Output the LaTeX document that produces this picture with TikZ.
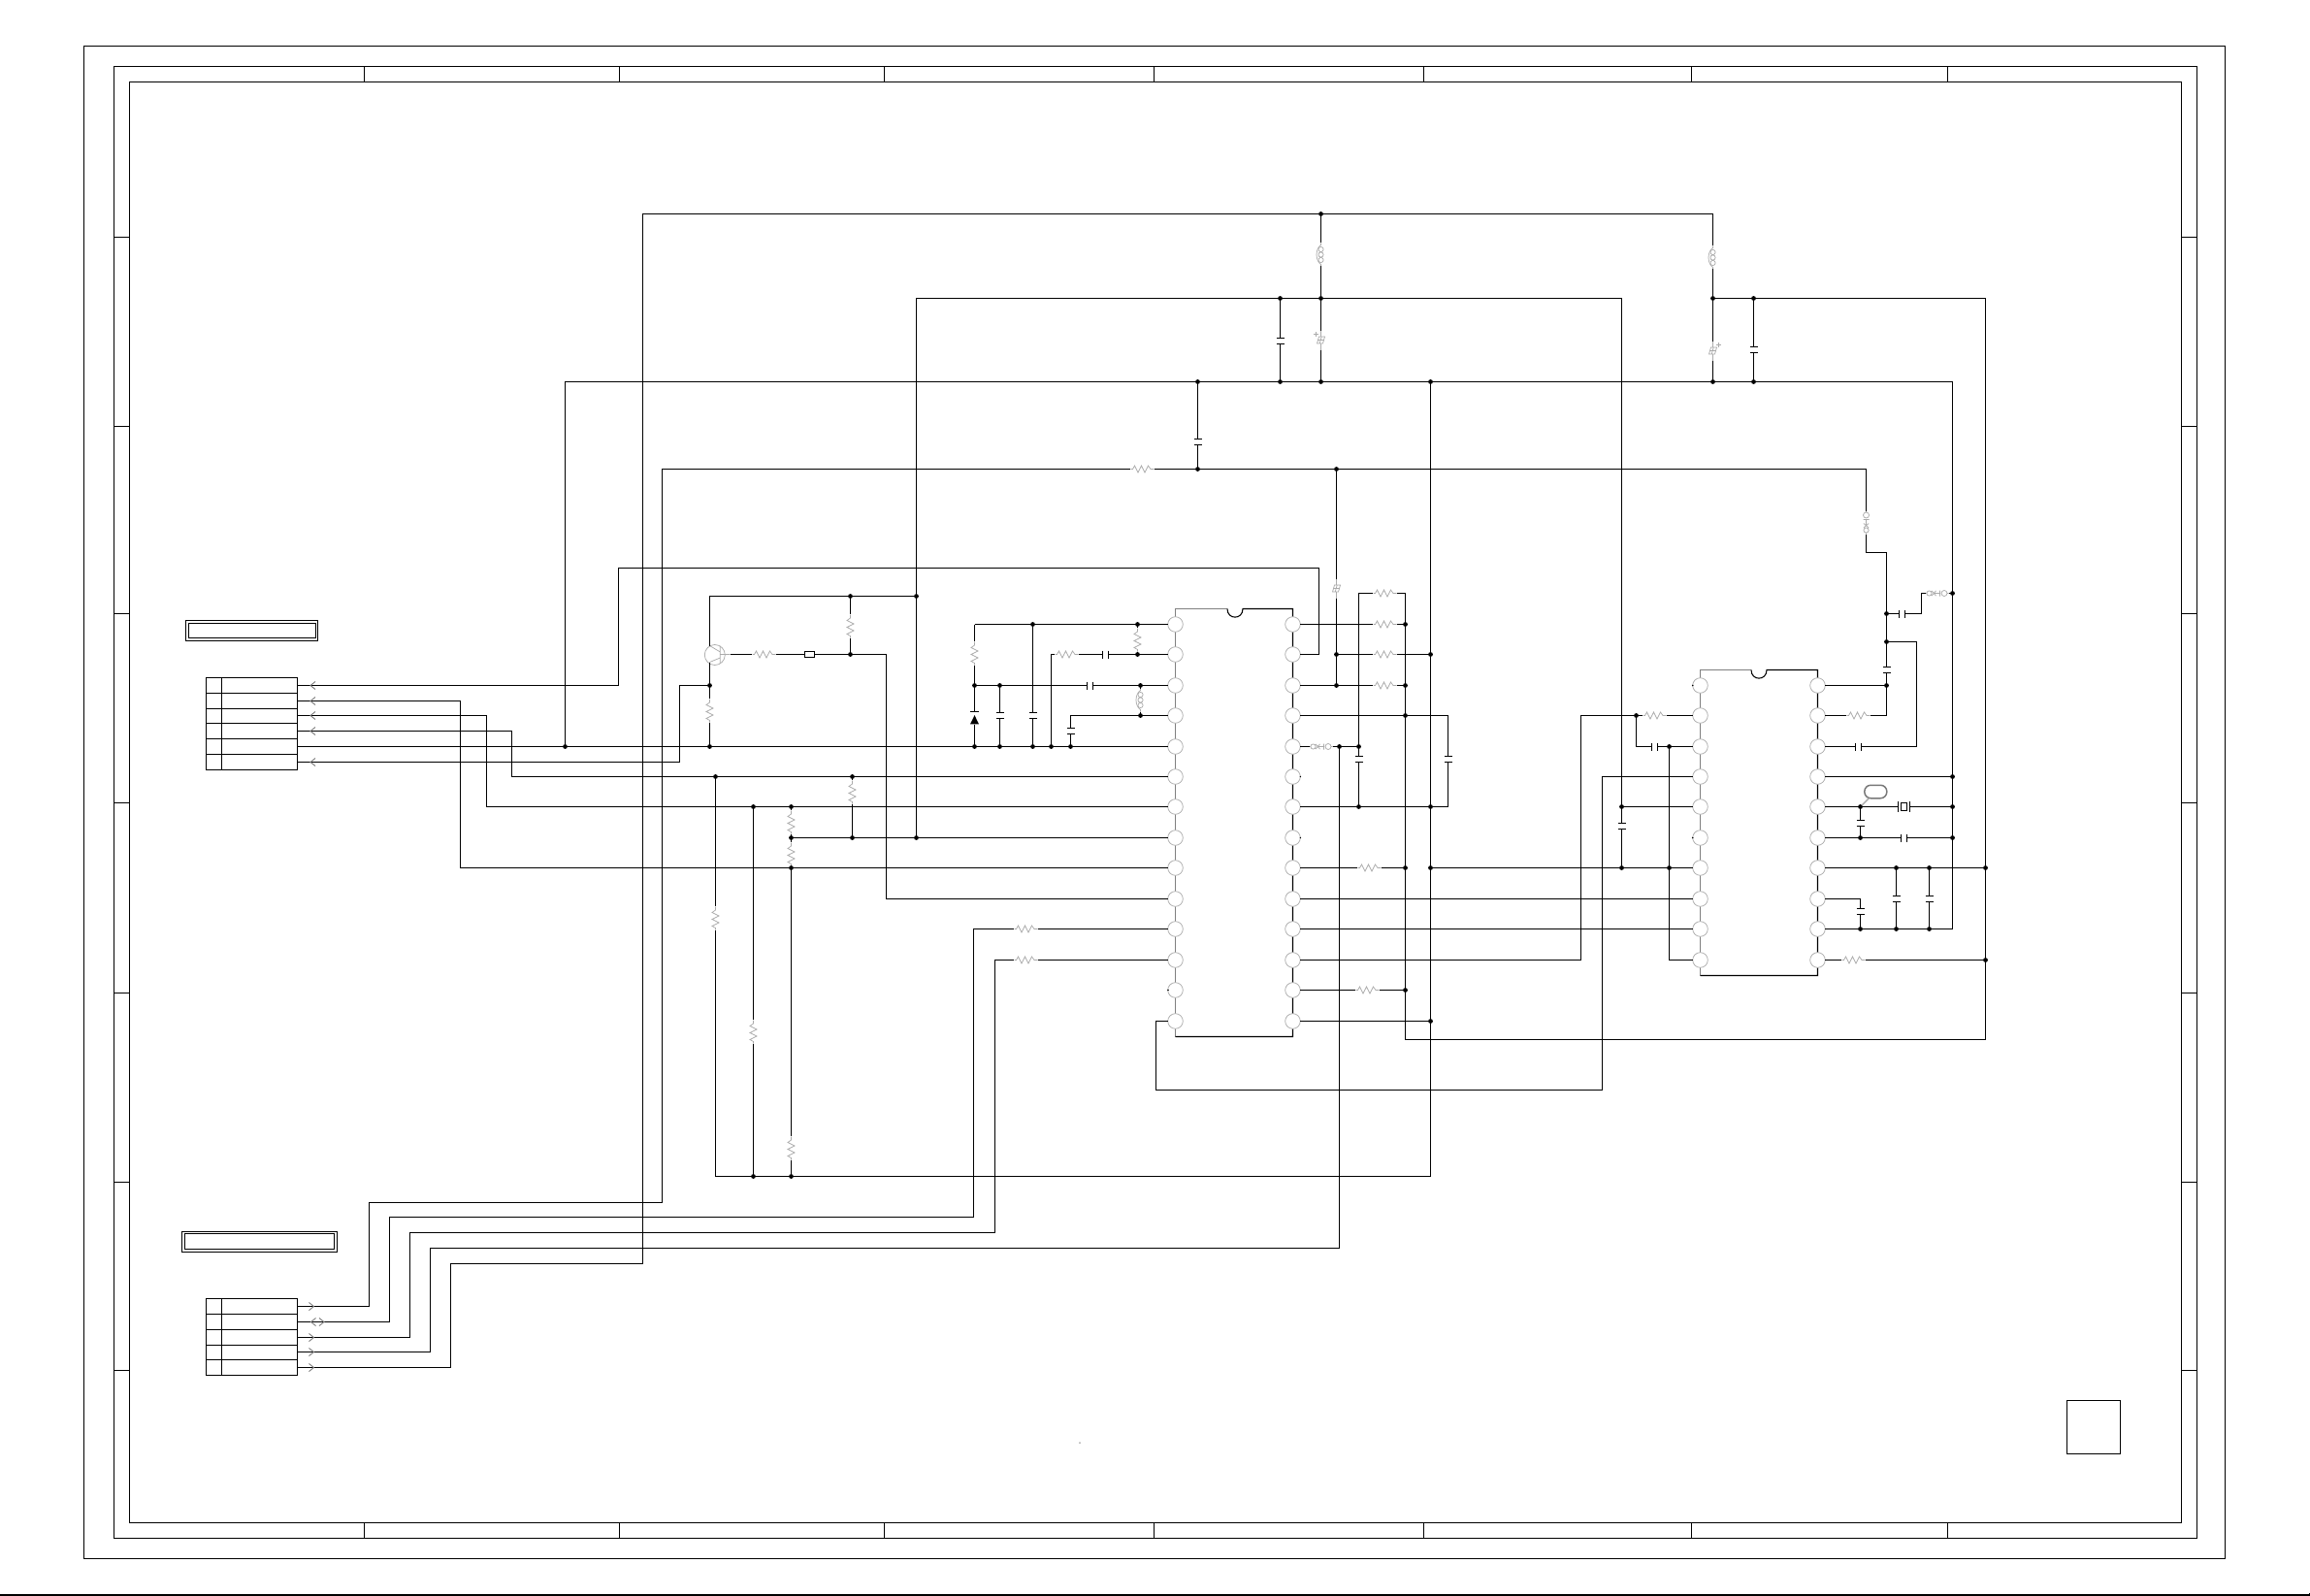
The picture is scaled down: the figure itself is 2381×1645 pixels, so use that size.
\documentclass[tikz,border=0pt]{standalone}
\def\pxu{0.3pt}
\definecolor{symgray}{HTML}{ABABAB}
\definecolor{icgray}{HTML}{808080}
\tikzset{
  wire/.style={draw=black,line width=0.32pt,line cap=butt,line join=miter},
  sym/.style={draw=symgray,line width=0.22pt},
  pinc/.style={circle,draw=symgray,line width=0.22pt,fill=white,minimum size=15.6*\pxu,inner sep=0pt,outer sep=0pt},
  jn/.style={circle,fill=black,draw=none,minimum size=4.8*\pxu,inner sep=0pt,outer sep=0pt},
  comp/.style={rectangle,draw=none,inner sep=0pt,outer sep=0pt},
  fusebox/.style={rectangle,draw=black,line width=0.32pt,fill=white,minimum width=10*\pxu,minimum height=6*\pxu,inner sep=0pt,outer sep=0pt},
  ovalnote/.style={rectangle,rounded corners=6.5*\pxu,draw=symgray!70!black,line width=0.45pt,minimum width=23*\pxu,minimum height=13.5*\pxu,inner sep=0pt,outer sep=0pt}
}
\newcommand{\snapxy}[2]{\pgfmathsetmacro\sxx{floor(#1)+0.5}\pgfmathsetmacro\syy{floor(#2)+0.5}}
\newcommand{\J}[3]{\snapxy{#2}{#3}\node[jn] (#1) at (\sxx,\syy) {};}
\newcommand{\K}[3]{\snapxy{#2}{#3}\coordinate (#1) at (\sxx,\syy);}
\newcommand{\zig}{\draw[sym] (-12,0) -- (-10,0) -- (-8,-3.5) -- (-4.5,3.5) -- (-1,-3.5) -- (2.5,3.5) -- (6,-3.5) -- (8.5,0) -- (12,0);}
\newcommand{\RH}[3]{\snapxy{#2}{#3}\node[comp,minimum width=25*\pxu,minimum height=8*\pxu] (#1) at (\sxx,\syy) {};
  \begin{scope}[shift={(\sxx,\syy)}]\zig\end{scope}}
\newcommand{\RV}[3]{\snapxy{#2}{#3}\node[comp,minimum width=8*\pxu,minimum height=25*\pxu] (#1) at (\sxx,\syy) {};
  \begin{scope}[shift={(\sxx,\syy)},rotate=90]\zig\end{scope}}
\newcommand{\capsym}{\draw[wire] (-3,-4) -- (-3,4) (3,-4) -- (3,4);}
\newcommand{\CH}[3]{\snapxy{#2}{#3}\node[comp,minimum width=6*\pxu,minimum height=8*\pxu] (#1) at (\sxx,\syy) {};
  \begin{scope}[shift={(\sxx,\syy)}]\capsym\end{scope}}
\newcommand{\CV}[3]{\snapxy{#2}{#3}\node[comp,minimum width=8*\pxu,minimum height=6*\pxu] (#1) at (\sxx,\syy) {};
  \begin{scope}[shift={(\sxx,\syy)},rotate=90]\capsym\end{scope}}
\newcommand{\LV}[3]{\snapxy{#2}{#3}\node[comp,minimum width=8*\pxu,minimum height=24*\pxu] (#1) at (\sxx,\syy) {};
  \begin{scope}[shift={(\sxx,\syy)}]
    \draw[sym] (0,-12) -- (0,-10) .. controls (-6,-6) and (-6,6) .. (0,10) -- (0,12);
    \draw[sym] (0,-5.5) circle[radius=2.6] (0,0) circle[radius=2.6] (0,5.5) circle[radius=2.6];
  \end{scope}}
\newcommand{\ferr}{\draw[sym] (-12,0) -- (-10.5,0) (-8,0) circle[radius=2.6] (-5.4,-2.6) -- (-1,2.6) (-5.4,2.6) -- (-1,-2.6) (-3,0) -- (3,0) (3,-3) -- (3,3) (7.5,0) circle[radius=3] (10.5,0) -- (12,0);}
\newcommand{\FH}[3]{\snapxy{#2}{#3}\node[comp,minimum width=24*\pxu,minimum height=8*\pxu] (#1) at (\sxx,\syy) {};
  \begin{scope}[shift={(\sxx,\syy)}]\ferr\end{scope}}
\newcommand{\FV}[3]{\snapxy{#2}{#3}\node[comp,minimum width=8*\pxu,minimum height=24*\pxu] (#1) at (\sxx,\syy) {};
  \begin{scope}[shift={(\sxx,\syy)},rotate=90]\ferr\end{scope}}
\newcommand{\EC}[4]{\snapxy{#2}{#3}\node[comp,minimum width=8*\pxu,minimum height=20*\pxu] (#1) at (\sxx,\syy) {};
  \begin{scope}[shift={(\sxx,\syy)}]
    \draw[sym] (0,-10) -- (0,-3.5) (0,3.5) -- (0,10);
    \draw[sym] (-4,3.5) -- (-2,-3.5) -- (4,-3.5) -- (2,3.5) -- cycle (-1.3,3.5) -- (0.7,-3.5) (-2.6,0) -- (2.8,0);
    \ifnum#4=1 \draw[sym] (-8,-6) -- (-3,-6) (-5.5,-8.5) -- (-5.5,-3.5);\fi
    \ifnum#4=2 \draw[sym] (3,-6) -- (8,-6) (5.5,-8.5) -- (5.5,-3.5);\fi
  \end{scope}}
\newcommand{\chevL}[2]{\draw[draw=symgray!70!black,line width=0.26pt] (#1+3,#2-4) -- (#1-2,#2) -- (#1+3,#2+4);}
\newcommand{\chevR}[2]{\draw[draw=symgray!70!black,line width=0.26pt] (#1-3,#2-4) -- (#1+2,#2) -- (#1-3,#2+4);}
\begin{document}
\begin{tikzpicture}[x=0.3pt,y=-0.3pt]
\useasboundingbox (0,0) rectangle (2381,1645);
% ---------- frame
\draw[wire] (86.5,47.5) rectangle (2293.5,1606.5);
\draw[wire] (117.5,68.5) rectangle (2264.5,1585.5);
\draw[wire] (133.5,84.5) rectangle (2248.5,1569.5);
\foreach \x in {375.5,638.5,911.5,1189.5,1467.5,1743.5,2007.5}{
  \draw[wire] (\x,68.5) -- (\x,84.5) (\x,1569.5) -- (\x,1585.5);}
\foreach \y in {244.5,439.5,632.5,827.5,1023.5,1218.5,1412.5}{
  \draw[wire] (117.5,\y) -- (133.5,\y) (2248.5,\y) -- (2264.5,\y);}
\draw[wire] (2130.5,1443.5) rectangle (2185.5,1498.5);
\draw[line width=0.4pt] (0,1644) -- (2381,1644);
\draw[line width=0.3pt] (2380.5,1642) -- (2380.5,1644);
\fill[symgray] (1113,1487) circle[radius=1];
% ---------- title boxes
\draw[wire] (191.5,639.5) rectangle (327.5,660.5);
\draw[wire] (194.5,642.5) rectangle (325.5,657.5);
\draw[wire] (187.5,1269.5) rectangle (347.5,1290.5);
\draw[wire] (190.5,1271.5) rectangle (344.5,1287.5);
% ---------- connectors
\draw[wire] (212.5,698.5) rectangle (306.5,793.5);
\draw[wire] (228.5,698.5) -- (228.5,793.5);
\foreach \y in {714.5,730.5,745.5,761.5,777.5}{\draw[wire] (212.5,\y) -- (306.5,\y);}
\draw[wire] (212.5,1338.5) rectangle (306.5,1417.5);
\draw[wire] (228.5,1338.5) -- (228.5,1417.5);
\foreach \y in {1354.5,1370.5,1386.5,1401.5}{\draw[wire] (212.5,\y) -- (306.5,\y);}
\K{P1}{306.5}{706}\K{P2}{306.5}{722.3}\K{P3}{306.5}{737.3}\K{P4}{306.5}{753.3}\K{P5}{306.5}{769}\K{P6}{306.5}{785.3}
\K{Q1}{306.5}{1346.3}\K{Q2}{306.5}{1362.3}\K{Q3}{306.5}{1378.3}\K{Q4}{306.5}{1393.3}\K{Q5}{306.5}{1409.3}
% ---------- ICs
\draw[draw=icgray,line width=0.32pt] (1211.5,1068.5) -- (1211.5,627.5) -- (1265,627.5);
\draw[wire] (1265,627.5) .. controls (1265,639) and (1281,639) .. (1281,627.5) -- (1332.5,627.5) -- (1332.5,1068.5) -- (1211.5,1068.5);
\draw[draw=icgray,line width=0.32pt] (1752.5,1005.5) -- (1752.5,690.5) -- (1805,690.5);
\draw[wire] (1805,690.5) .. controls (1805,702) and (1821,702) .. (1821,690.5) -- (1873.5,690.5) -- (1873.5,1005.5) -- (1752.5,1005.5);
\foreach \n/\y in {1/643.5,2/674.5,3/706.5,4/737.5,5/769.5,6/800.5,7/831.5,8/863.5,9/894.5,10/926.5,11/957.5,12/989.5,13/1020.5,14/1052.5}{
  \node[pinc] (A\n) at (1211.5,\y) {};
  \node[pinc] (B\n) at (1332.5,\y) {};}
\foreach \n/\y in {1/706.5,2/737.5,3/769.5,4/800.5,5/831.5,6/863.5,7/894.5,8/926.5,9/957.5,10/989.5}{
  \node[pinc] (C\n) at (1752.5,\y) {};
  \node[pinc] (D\n) at (1873.5,\y) {};}
\fill (1204,1020.5) circle[radius=0.8] (1340.3,800.5) circle[radius=0.8] (1340.3,863.5) circle[radius=0.8] (1744.7,706.5) circle[radius=0.8] (1744.7,863.5) circle[radius=0.8];
% ---------- junctions
\J{jT}{1361}{220.3}
\J{u1}{1319}{307}\J{u2}{1361}{307}\J{u3}{1765.6}{307}\J{u4}{1807.7}{307}
\J{v0}{1234.5}{393.3}\J{v1}{1319}{393.3}\J{v2}{1361}{393.3}\J{v3}{1474}{393.3}\J{v4}{1765.6}{393.3}\J{v5}{1807.7}{393.3}
\J{w0}{1234.5}{483}\J{w1}{1377}{483}
\J{ja}{944.3}{614.3}\J{jb}{876.5}{614.3}\J{jc}{876.5}{674.3}\J{jd}{731.4}{706}\J{je}{731.4}{769}\J{jf}{582}{769}
\J{g1}{1004.3}{706}\J{g2}{1004.3}{769}\J{g3}{1030.6}{706}\J{g4}{1030.6}{769}\J{g5}{1064.5}{643}\J{g6}{1064.5}{769}\J{g7}{1083.3}{769}\J{g8}{1103.8}{769}\J{g9}{1172}{643}\J{g10}{1172}{674.3}\J{g11}{1175.3}{706}\J{g12}{1175.3}{737.3}
\J{h1}{737.3}{800.3}\J{h2}{878.4}{800.3}\J{h3}{776.2}{831.7}\J{h4}{815.4}{831.7}\J{h5}{815.4}{863.3}\J{h6}{878.4}{863.3}\J{h7}{944.3}{863.3}\J{h8}{815.4}{894.7}\J{h9}{776.2}{1212}\J{h10}{815.4}{1212}
\J{m1}{1377}{674.3}\J{m2}{1377}{706}\J{m3}{1380.3}{769}\J{m4}{1400.3}{769}\J{m5}{1400.3}{831.7}
\J{n1}{1448.3}{643}\J{n2}{1448.3}{706}\J{n3}{1448.3}{737.3}\J{n4}{1448.3}{894.7}\J{n5}{1448.3}{1020.7}
\J{o1}{1474}{674.3}\J{o2}{1474}{831.7}\J{o3}{1474}{894.7}\J{o4}{1474}{1052.3}
\J{s1}{1671}{831.7}\J{s2}{1671}{894.7}\J{s3}{1686.7}{737.3}\J{s4}{1720.7}{769}\J{s5}{1720.7}{894.7}
\J{t1}{1944.3}{632.3}\J{t2}{1944.3}{661.3}\J{t3}{1944.3}{706}
\J{y1}{2012.3}{611.3}\J{y2}{2012.3}{800.3}\J{y3}{2012.3}{831.7}\J{y4}{2012.3}{863.3}
\J{z1}{2046.3}{894.7}\J{z2}{2046.3}{989.3}
\J{a1}{1917.8}{831.7}\J{a2}{1917.8}{863.3}\J{a3}{1917.8}{957.7}\J{a4}{1954}{894.7}\J{a5}{1954}{957.7}\J{a6}{1988.3}{894.7}\J{a7}{1988.3}{957.7}
% ---------- components
\RH{r1}{1427}{611.3}\RH{r2}{1427}{643}\RH{r3}{1427}{674.3}\RH{r4}{1427}{706}\RH{r5}{1411}{894.7}\RH{r6}{1409}{1020.7}
\RH{r7}{1177}{483}\RH{r8}{787}{674.3}\RH{r9}{1099.4}{674.3}
\RV{r10}{876.5}{645}\RV{r11}{731.4}{732.7}\RV{r12}{1004.3}{673}\RV{r13}{1172}{659.3}\RV{r14}{878.4}{816}\RV{r15}{815.4}{847}\RV{r16}{815.4}{880}\RV{r17}{737.3}{946}\RV{r18}{776.2}{1063}\RV{r19}{815.4}{1183}
\RH{r20}{1057}{957.7}\RH{r21}{1057}{989.3}\RH{r22}{1705}{737.3}\RH{r23}{1915}{737.3}\RH{r24}{1910}{989.3}
\LV{l1}{1361}{262}\LV{l2}{1765.6}{265}\LV{l3}{1175.3}{721.5}
\FH{f1}{1361}{769}\FV{f2}{1923.7}{538}\FH{f3}{1996.7}{611.3}
\EC{e1}{1361}{350}{1}\EC{e2}{1765.6}{361.7}{2}\EC{e3}{1377}{606}{0}
\CV{cp1}{1319}{351.7}\CV{cp2}{1807.7}{360}\CV{cp3}{1234.5}{455.6}\CV{cp4}{1400.3}{782.7}\CV{cp5}{1492.3}{782.7}\CV{cp6}{1030.6}{737.7}\CV{cp7}{1064.5}{737.7}\CV{cp8}{1103.8}{753}\CV{cp9}{1671}{851}\CV{cp10}{1944.3}{690.7}\CV{cp11}{1917.8}{848}\CV{cp12}{1917.8}{939.3}\CV{cp13}{1954}{926.7}\CV{cp14}{1988.3}{926.7}
\CH{cp15}{1139}{674.3}\CH{cp16}{1123}{706}\CH{cp17}{1705.7}{769}\CH{cp18}{1915.3}{769}\CH{cp19}{1960}{632.3}\CH{cp20}{1962.7}{863.3}
% crystal
\node[comp,minimum width=11*\pxu,minimum height=8*\pxu] (x1) at (1962.5,831.5) {};
\begin{scope}[shift={(1962.5,831.5)}]
  \draw[wire] (-6,-5.5) -- (-6,5.5) (6,-5.5) -- (6,5.5) (-3,-4) rectangle (3,4);
\end{scope}
% fuse
\node[fusebox] (b1) at (834.5,674.5) {};
% diode
\node[comp,minimum width=9*\pxu,minimum height=13*\pxu] (d1) at (1004.5,740) {};
\draw[wire] (1000,733.5) -- (1009,733.5);
\fill (1004.5,737.2) -- (1009,746.4) -- (1000,746.4) -- cycle;
% transistor
\node[circle,draw=symgray,line width=0.22pt,minimum size=21*\pxu,inner sep=0pt,outer sep=0pt] (q1) at (736.8,675) {};
\K{qC}{731.4}{665}\K{qE}{731.4}{682}\K{qB}{752.7}{674.3}
\draw[sym] (qC) -- (742.3,672) (qE) -- (742.3,678) (742.3,665.5) -- (742.3,684) (742.3,674.5) -- (qB);
% oval note
\node[ovalnote] (ov1) at (1933.3,816) {};
\draw[draw=symgray,line width=0.4pt] (a1) -- (ov1);
% ---------- corner coordinates
\K{k1}{464.3}{1409.3}\K{k2}{464.3}{1302.3}\K{k3}{662}{1302.3}\K{k4}{662}{220.3}\K{k5}{1765.6}{220.3}
\K{k6}{944.3}{307}\K{k7}{1671}{307}\K{k8}{582}{393.3}\K{k9}{2012.3}{393.3}\K{k10}{2012.3}{957.7}
\K{k11}{637.6}{706}\K{k12}{637.6}{585}\K{k13}{1359.3}{585}\K{k14}{1359.3}{674.3}
\K{k15}{474.5}{722.3}\K{k16}{474.5}{894.7}\K{k17}{501.3}{737.3}\K{k18}{501.3}{831.7}\K{k19}{527.7}{753.3}\K{k20}{527.7}{800.3}
\K{k21}{380.3}{1346.3}\K{k22}{380.3}{1239}\K{k23}{682}{1239}\K{k24}{682}{483}\K{k25}{1923.7}{483}\K{k26}{1923.7}{569.3}\K{k27}{1944.3}{569.3}\K{k28}{1944.3}{737.3}
\K{k29}{401.3}{1362.3}\K{k30}{401.3}{1254.3}\K{k31}{1003.7}{1254.3}\K{k32}{1003.7}{957.7}
\K{k33}{422.3}{1378.3}\K{k34}{422.3}{1270.3}\K{k35}{1025}{1270.3}\K{k36}{1025}{989.3}
\K{k37}{443.3}{1393.3}\K{k38}{443.3}{1286.3}\K{k39}{1380.3}{1286.3}
\K{k40}{1400.3}{611.3}\K{k41}{1448.3}{611.3}\K{k42}{1448.3}{1071.3}\K{k43}{2046.3}{1071.3}\K{k44}{2046.3}{307}
\K{k45}{1492.3}{737.3}\K{k46}{1492.3}{831.7}
\K{k47}{1629.3}{989.3}\K{k48}{1629.3}{737.3}\K{k49}{1686.7}{769}\K{k50}{1720.7}{989.3}
\K{k51}{1651}{800.3}\K{k52}{1651}{1123}\K{k53}{1191.3}{1123}\K{k54}{1191.3}{1052.3}
\K{k55}{1975.3}{769}\K{k56}{1975.3}{661.3}\K{k57}{1980.7}{632.3}\K{k58}{1980.7}{611.3}
\K{k59}{1917.8}{926.3}\K{k60}{1474}{1212}\K{k61}{737.3}{1212}
\K{k62}{731.4}{614.3}\K{k63}{913}{674.3}\K{k64}{913}{926.3}\K{k65}{700.3}{785.3}\K{k66}{700.3}{706}
\K{k67}{1004.3}{643}\K{k68}{1083.3}{674.3}\K{k69}{1103.8}{737.3}
% ---------- wires
\draw[wire] (Q5) -- (k1) -- (k2) -- (k3) -- (k4) -- (jT) -- (k5) -- (l2) (l2) -- (u3) -- (e2) (e2) -- (v4);
\draw[wire] (jT) -- (l1) (l1) -- (u2) -- (e1) (e1) -- (v2);
\draw[wire] (h7) -- (ja) -- (k6) -- (u1) -- (u2) -- (k7) -- (s1) -- (cp9) (cp9) -- (s2);
\draw[wire] (u3) -- (u4) -- (k44);
\draw[wire] (u1) -- (cp1) (cp1) -- (v1);
\draw[wire] (u4) -- (cp2) (cp2) -- (v5);
\draw[wire] (v0) -- (cp3) (cp3) -- (w0);
\draw[wire] (qC) -- (k62) -- (jb) -- (ja);
\draw[wire] (jb) -- (r10) (r10) -- (jc);
\draw[wire] (qB) -- (r8) (r8) -- (b1) (b1) -- (jc) -- (k63) -- (k64) -- (A10);
\draw[wire] (qE) -- (jd) -- (r11) (r11) -- (je);
\draw[wire] (P6) -- (k65) -- (k66) -- (jd);
\draw[wire] (P5) -- (jf) -- (je) -- (g2) -- (g4) -- (g6) -- (g7) -- (g8) -- (A5);
\draw[wire] (jf) -- (k8) -- (v0) -- (v1) -- (v2) -- (v3) -- (v4) -- (v5) -- (k9) -- (y1) -- (y2) -- (y3) -- (y4) -- (k10);
\draw[wire] (P1) -- (k11) -- (k12) -- (k13) -- (k14) -- (B2);
\draw[wire] (P2) -- (k15) -- (k16) -- (h8) -- (A9);
\draw[wire] (P3) -- (k17) -- (k18) -- (h3) -- (h4) -- (A7);
\draw[wire] (P4) -- (k19) -- (k20) -- (h1) -- (h2) -- (A6);
\draw[wire] (h2) -- (r14) (r14) -- (h6);
\draw[wire] (h5) -- (h6) -- (h7) -- (A8);
\draw[wire] (h4) -- (r15) (r15) -- (h5) -- (r16) (r16) -- (h8) -- (r19) (r19) -- (h10);
\draw[wire] (h3) -- (r18) (r18) -- (h9);
\draw[wire] (Q1) -- (k21) -- (k22) -- (k23) -- (k24) -- (r7) (r7) -- (w0) -- (w1) -- (k25) -- (f2) (f2) -- (k26) -- (k27) -- (t1) -- (t2) -- (cp10) (cp10) -- (t3) -- (k28) -- (r23) (r23) -- (D2);
\draw[wire] (Q2) -- (k29) -- (k30) -- (k31) -- (k32) -- (r20) (r20) -- (A11);
\draw[wire] (Q3) -- (k33) -- (k34) -- (k35) -- (k36) -- (r21) (r21) -- (A12);
\draw[wire] (Q4) -- (k37) -- (k38) -- (k39) -- (m3);
\draw[wire] (B5) -- (f1) (f1) -- (m3) -- (m4) -- (cp4) (cp4) -- (m5);
\draw[wire] (m4) -- (k40) -- (r1) (r1) -- (k41) -- (n1) -- (n2) -- (n3) -- (n4) -- (n5) -- (k42) -- (k43) -- (z2) -- (z1) -- (k44);
\draw[wire] (B1) -- (r2) (r2) -- (n1);
\draw[wire] (w1) -- (e3) (e3) -- (m1) -- (m2);
\draw[wire] (m1) -- (r3) (r3) -- (o1);
\draw[wire] (B3) -- (m2) -- (r4) (r4) -- (n2);
\draw[wire] (B4) -- (n3) -- (k45) -- (cp5) (cp5) -- (k46) -- (o2) -- (m5) -- (B7);
\draw[wire] (v3) -- (o1) -- (o2) -- (o3) -- (o4) -- (k60) -- (h10) -- (h9) -- (k61) -- (r17) (r17) -- (h1);
\draw[wire] (B9) -- (r5) (r5) -- (n4);
\draw[wire] (o3) -- (s2) -- (s5) -- (C7);
\draw[wire] (B10) -- (C8);
\draw[wire] (B11) -- (C9);
\draw[wire] (B12) -- (k47) -- (k48) -- (s3) -- (r22) (r22) -- (C2);
\draw[wire] (s3) -- (k49) -- (cp17) (cp17) -- (s4) -- (C3);
\draw[wire] (s4) -- (s5) -- (k50) -- (C10);
\draw[wire] (C4) -- (k51) -- (k52) -- (k53) -- (k54) -- (A14);
\draw[wire] (C5) -- (s1);
\draw[wire] (B13) -- (r6) (r6) -- (n5);
\draw[wire] (B14) -- (o4);
\draw[wire] (D1) -- (t3);
\draw[wire] (D3) -- (cp18) (cp18) -- (k55) -- (k56) -- (t2);
\draw[wire] (t1) -- (cp19) (cp19) -- (k57) -- (k58) -- (f3) (f3) -- (y1);
\draw[wire] (D4) -- (y2);
\draw[wire] (D5) -- (a1) -- (x1) (x1) -- (y3);
\draw[wire] (a1) -- (cp11) (cp11) -- (a2);
\draw[wire] (D6) -- (a2) -- (cp20) (cp20) -- (y4);
\draw[wire] (D7) -- (a4) -- (a6) -- (z1);
\draw[wire] (a4) -- (cp13) (cp13) -- (a5);
\draw[wire] (a6) -- (cp14) (cp14) -- (a7);
\draw[wire] (D8) -- (k59) -- (cp12) (cp12) -- (a3);
\draw[wire] (D9) -- (a3) -- (a5) -- (a7) -- (k10);
\draw[wire] (D10) -- (r24) (r24) -- (z2);
\draw[wire] (k67) -- (g5) -- (g9) -- (A1);
\draw[wire] (k67) -- (r12) (r12) -- (g1) -- (d1) (d1) -- (g2);
\draw[wire] (g5) -- (cp7) (cp7) -- (g6);
\draw[wire] (g9) -- (r13) (r13) -- (g10) -- (A2);
\draw[wire] (g10) -- (cp15) (cp15) -- (r9) (r9) -- (k68) -- (g7);
\draw[wire] (g1) -- (g3) -- (cp16) (cp16) -- (g11) -- (A3);
\draw[wire] (g3) -- (cp6) (cp6) -- (g4);
\draw[wire] (g11) -- (l3) (l3) -- (g12) -- (A4);
\draw[wire] (g12) -- (k69) -- (cp8) (cp8) -- (g8);
% ---------- connector arrowheads
\foreach \y in {706.5,722.5,737.5,753.5,785.5}{\chevL{322}{\y}}
\foreach \y in {1346.5,1378.5,1393.5,1409.5}{\chevR{321.5}{\y}}
\chevL{322.5}{1362.5}\chevR{332}{1362.5}
\end{tikzpicture}
\end{document}
